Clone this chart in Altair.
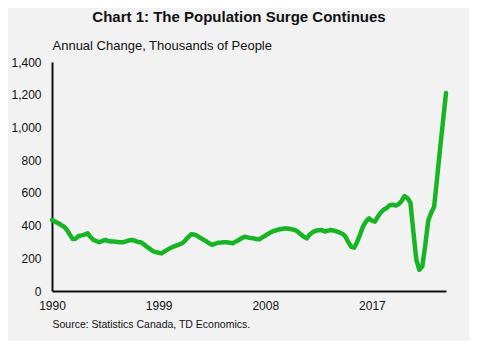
import altair as alt
import pandas as pd

# Quarterly annual change in population (thousands), 1990Q1 .. 2023Q2
start_year = 1990
values = [
    434, 425, 416, 405, 393, 375, 345, 318, 320, 336,
    340, 345, 353, 330, 312, 305, 298, 306, 312, 305,
    303, 302, 300, 298, 298, 303, 310, 312, 307, 300,
    298, 285, 271, 258, 244, 238, 234, 230, 242, 253,
    263, 271, 278, 285, 292, 310, 330, 347, 345, 338,
    325, 315, 305, 292, 282, 288, 295, 296, 298, 298,
    295, 292, 302, 312, 322, 332, 328, 324, 322, 318,
    316, 328, 338, 350, 360, 368, 373, 378, 381, 383,
    380, 377, 373, 362, 346, 332, 322, 345, 360, 368,
    372, 373, 364, 368, 373, 370, 364, 358, 350, 335,
    300, 270, 265, 300, 345, 395, 425, 444, 430, 424,
    455, 480, 498, 508, 524, 528, 522, 530, 550, 580,
    568, 540, 360, 190, 130, 150, 280, 430, 478, 516,
    690, 870, 1040, 1210,
]
tick_years = [1990, 1999, 2008, 2017]
y_ticks = [0, 200, 400, 600, 800, 1000, 1200, 1400]

title_text = "Chart 1: The Population Surge Continues"
subtitle_text = "Annual Change, Thousands of People"
source_text = "Source: Statistics Canada, TD Economics."

df = pd.DataFrame({
    "t": [start_year + i / 4 for i in range(len(values))],
    "v": values,
})

FONT = "Liberation Sans"

chart = alt.Chart(df).mark_line(
    color="#17b524", strokeWidth=4.5, strokeJoin="round", strokeCap="round"
).encode(
    x=alt.X(
        "t:Q",
        scale=alt.Scale(domain=[1990, 2023.25], nice=False, zero=False),
        axis=alt.Axis(
            values=tick_years, format="d", grid=False, ticks=False,
            domainColor="#111111", domainWidth=2,
            labelFont=FONT, labelFontSize=12, labelColor="#111111",
            labelPadding=9, labelFlush=False,
            title=source_text, titleFont=FONT, titleFontSize=10.5,
            titleFontWeight="normal", titleColor="#111111",
            titleAnchor="start", titleAlign="left", titleX=0, titleY=36,
            titleBaseline="alphabetic",
        ),
    ),
    y=alt.Y(
        "v:Q",
        scale=alt.Scale(domain=[0, 1400], nice=False),
        axis=alt.Axis(
            values=y_ticks, format=",d", grid=False, ticks=False,
            domainColor="#111111", domainWidth=2,
            labelFont=FONT, labelFontSize=12, labelColor="#111111",
            labelPadding=11,
            title=subtitle_text, titleFont=FONT, titleFontSize=13,
            titleFontWeight="normal", titleColor="#111111",
            titleAngle=0, titleAlign="left", titleX=0, titleY=-13,
            titleBaseline="alphabetic",
        ),
    ),
).properties(
    width=394,
    height=229,
    title=alt.Title(
        title_text, font=FONT, fontSize=15, fontWeight="bold",
        color="#111111", anchor="middle", dx=-10, offset=14,
    ),
    autosize=alt.AutoSizeParams(type="none"),
    padding={"left": 44, "top": 54, "right": 23, "bottom": 50},
).configure(
    background="#f2f2f2",
).configure_view(
    stroke=None,
)

chart.save("out.html", embed_options={"renderer": "svg", "actions": False})
